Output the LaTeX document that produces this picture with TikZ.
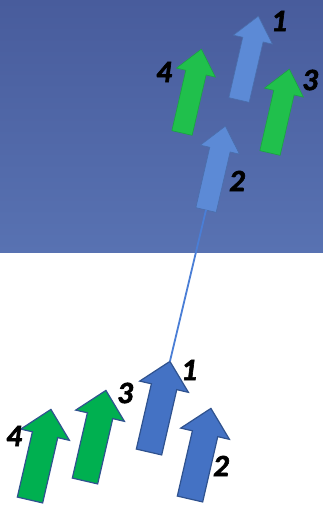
\documentclass[tikz,border=0pt]{standalone}
\usepackage{fontspec}
\setmainfont{Carlito}
\newfontfamily\numfont{Carlito Bold Italic}[FakeBold=2]
\usetikzlibrary{positioning}
\definecolor{skytop}{RGB}{72,92,156}
\definecolor{skybot}{RGB}{88,114,178}
\definecolor{darkblue}{RGB}{68,114,196}
\definecolor{lightblue}{RGB}{92,138,214}
\definecolor{darkgreen}{RGB}{0,176,80}
\definecolor{lightgreen}{RGB}{32,192,76}
\definecolor{rim}{RGB}{47,82,143}
\definecolor{wire}{RGB}{74,126,214}
\tikzstyle{bluearr} = [fill=darkblue, draw=rim, line width=1.2pt, line join=miter]
\tikzstyle{greenarr} = [fill=darkgreen, draw=rim, line width=1.2pt, line join=miter]
\tikzstyle{fadeblue} = [fill=lightblue, draw=lightblue!80!black, line width=0.6pt]
\tikzstyle{fadegreen} = [fill=lightgreen, draw=lightgreen!85!black, line width=0.6pt]
\tikzstyle{small} = [xscale=0.8, yscale=0.925]
\tikzstyle{num} = [font=\numfont\fontsize{31}{31}\selectfont, text=black, inner sep=0pt]
\tikzstyle{link} = [draw=wire, line width=1.8pt]
% #1 name, #2 tail point, #3 look, #4 size
\newcommand{\blockarrow}[4]{%
  \begin{scope}[shift={#2}, rotate=-13, #4]
    \path[#3] (-13,0) -- (-13,-67) -- (-25,-67) -- (0,-93) -- (25,-67) -- (13,-67) -- (13,0) -- cycle;
    \coordinate (#1-tail) at (0,0);
    \coordinate (#1-tip) at (0,-93);
  \end{scope}}

\begin{document}
\begin{tikzpicture}[x=1pt, y=-1pt]
    \fill[white] (0,0) rectangle (323,505);
    \useasboundingbox (0,0) rectangle (323,505);
    \shade[top color=skytop, bottom color=skybot] (0,0) rectangle (323,252);
    % upper group
    \blockarrow{u1}{(239,100)}{fadeblue}{small}
    \blockarrow{u4}{(182,133)}{fadegreen}{small}
    \blockarrow{u3}{(270,153)}{fadegreen}{small}
    \blockarrow{u2}{(206,210)}{fadeblue}{small}
    % lower group
    \blockarrow{l1}{(149,452)}{bluearr}{}
    \blockarrow{l2}{(190,499)}{bluearr}{}
    \blockarrow{l3}{(85,481)}{greenarr}{}
    \blockarrow{l4}{(30,500)}{greenarr}{}
    \draw [link] (u2-tail) -- (l1-tip);
    \node [num] at (279,21) (nu1) {1};
    \node [num] at (164,72) (nu4) {4};
    \node [num] at (310,80) (nu3) {3};
    \node [num] at (237,181) (nu2) {2};
    \node [num] at (189,370) (nl1) {1};
    \node [num] at (125,393) (nl3) {3};
    \node [num] at (14,436) (nl4) {4};
    \node [num] at (221,466) (nl2) {2};
\end{tikzpicture}
\end{document}
